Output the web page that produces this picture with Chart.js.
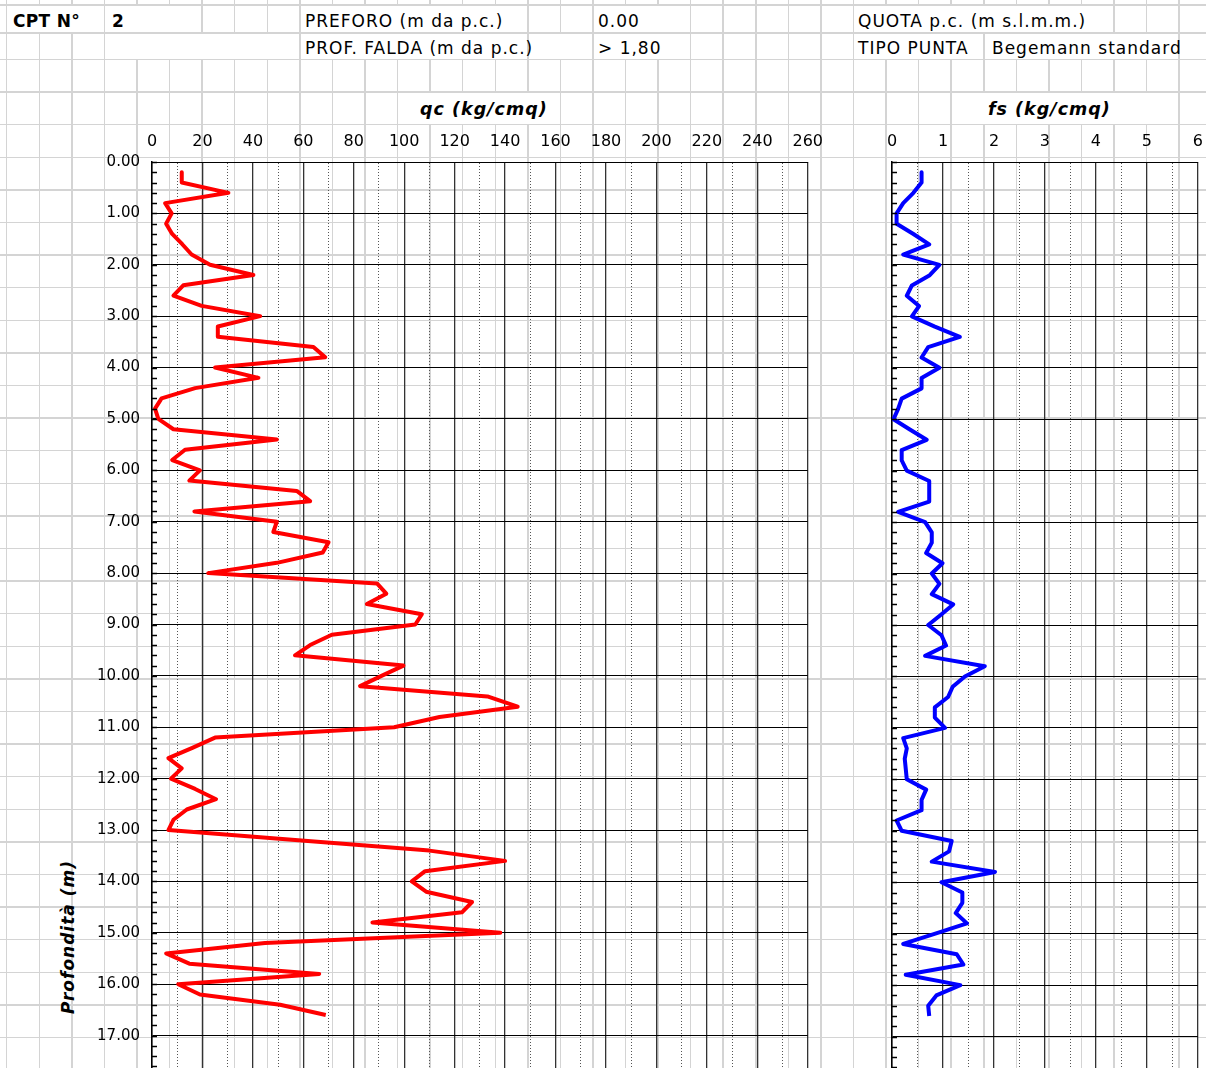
<!DOCTYPE html>
<html>
<head>
<meta charset="utf-8">
<title>CPT 2</title>
<script src="https://cdn.jsdelivr.net/npm/chart.js@4.4.0/dist/chart.umd.min.js"></script>
<style>
  html, body { margin: 0; padding: 0; background: #fff; }
  body { width: 1206px; height: 1068px; overflow: hidden; position: relative; font-family: 'DejaVu Sans', Verdana, sans-serif; }
  #sheet { position: absolute; left: 0; top: 0; width: 1206px; height: 1068px; }
  .vl { position: absolute; top: 0; width: 1.5px; height: 1068px; background: #d4d4d4; }
  .hl { position: absolute; left: 0; height: 1.5px; width: 1206px; background: #d4d4d4; }
  .cover { position: absolute; background: #fff; }
  .txt { position: absolute; white-space: nowrap; font-size: 17px; letter-spacing: 1px; line-height: 22px; color: #000; }
  .b { font-weight: bold; letter-spacing: 0.3px; }
  .title { font-weight: bold; font-style: italic; font-size: 17.5px; letter-spacing: 1px; }
  canvas { position: absolute; top: 0; }
</style>
</head>
<body>
<div id="sheet"></div>
<canvas id="qcChart" width="834" height="1108" style="left:0"></canvas>
<canvas id="fsChart" width="354" height="1088" style="left:860px"></canvas>
<script>
// depth of each reading (m)
const depths = [0.2, 0.4, 0.6, 0.8, 1.0, 1.2, 1.4, 1.6, 1.8, 2.0,
  2.2, 2.4, 2.6, 2.8, 3.0, 3.2, 3.4, 3.6, 3.8, 4.0,
  4.2, 4.4, 4.6, 4.8, 5.0, 5.2, 5.4, 5.6, 5.8, 6.0,
  6.2, 6.4, 6.6, 6.8, 7.0, 7.2, 7.4, 7.6, 7.8, 8.0,
  8.2, 8.4, 8.6, 8.8, 9.0, 9.2, 9.4, 9.6, 9.8, 10.0,
  10.2, 10.4, 10.6, 10.8, 11.0, 11.2, 11.4, 11.6, 11.8, 12.0,
  12.2, 12.4, 12.6, 12.8, 13.0, 13.2, 13.4, 13.6, 13.8, 14.0,
  14.2, 14.4, 14.6, 14.8, 15.0, 15.2, 15.4, 15.6, 15.8, 16.0,
  16.2, 16.4, 16.6];

// cone resistance qc (kg/cmq)
const qcValues = [11.8, 11.8, 30.3, 5.2, 7.8, 5.6, 8, 12, 15.7, 23,
  40.2, 12.4, 8.5, 19.7, 42.9, 26.1, 26.1, 64, 68.7, 25,
  42.2, 17.1, 3.8, 1.2, 2.5, 8.5, 49.5, 13.1, 8, 19,
  14.8, 57.4, 62.7, 16.8, 49.5, 48.1, 70, 67.7, 49.5, 22.3,
  89.2, 92.9, 85.2, 107, 104.4, 71.3, 62.7, 56.7, 99.7, 91,
  82.5, 133, 145, 114, 96, 25, 16, 6.5, 11.8, 7.5,
  17.1, 25.4, 13.8, 8.5, 6.5, 58, 110, 140, 108.3, 103,
  108.7, 126.9, 122.9, 87.4, 138.1, 44.8, 5.6, 14.8, 66.3, 10.4,
  19, 50.8, 68.9];

// sleeve friction fs (kg/cmq)
const fsValues = [0.58, 0.58, 0.42, 0.22, 0.09, 0.09, 0.42, 0.73, 0.22, 0.93,
  0.74, 0.39, 0.29, 0.53, 0.39, 0.84, 1.33, 0.71, 0.58, 0.93,
  0.58, 0.58, 0.19, 0.12, 0.03, 0.35, 0.68, 0.19, 0.19, 0.29,
  0.73, 0.73, 0.73, 0.12, 0.65, 0.78, 0.78, 0.67, 0.99, 0.78,
  0.93, 0.78, 1.2, 0.96, 0.71, 0.97, 1.06, 0.65, 1.82, 1.43,
  1.19, 1.1, 0.84, 0.84, 1.04, 0.22, 0.29, 0.25, 0.27, 0.29,
  0.67, 0.58, 0.58, 0.09, 0.19, 1.17, 1.12, 0.78, 2.02, 0.97,
  1.38, 1.38, 1.25, 1.47, 0.85, 0.22, 1.27, 1.4, 0.27, 1.34,
  0.87, 0.71, 0.73];

const qcTickLabels = [0, 20, 40, 60, 80, 100, 120, 140, 160, 180, 200, 220, 240, 260];
const fsTickLabels = [0, 1, 2, 3, 4, 5, 6];
const depthTickLabels = ['0.00', '1.00', '2.00', '3.00', '4.00', '5.00', '6.00', '7.00', '8.00',
  '9.00', '10.00', '11.00', '12.00', '13.00', '14.00', '15.00', '16.00', '17.00'];

// ---- spreadsheet background (cells, header texts) ----
const sheet = document.getElementById('sheet');
const colX = k => 6.7 + 32.57 * k;
const rowY = k => k === 0 ? 5 : k === 1 ? 33 : 59.5 + 32.6 * (k - 2);

const addDiv = (cls, style, text) => {
  const d = document.createElement('div');
  d.className = cls;
  Object.assign(d.style, style);
  if (text) d.textContent = text;
  sheet.appendChild(d);
  return d;
};

for (let k = 0; colX(k) < 1206; k++) addDiv('vl', { left: (colX(k) - 0.75) + 'px' });

// merged cells: [firstCol, lastCol, row]
const merged = [[0, 3, 0], [3, 6, 0], [9, 16, 0], [18, 21, 0], [26, 34, 0],
  [3, 9, 1], [9, 16, 1], [16, 18, 1], [18, 21, 1], [26, 30, 1], [30, 36, 1],
  [12, 17, 3], [29, 36, 3]];
merged.forEach(([a, b, r]) => {
  addDiv('cover', {
    left: (colX(a) + 0.75) + 'px', width: (colX(b) - colX(a) - 1.5) + 'px',
    top: rowY(r) + 'px', height: (rowY(r + 1) - rowY(r)) + 'px'
  });
});

for (let k = 0; rowY(k) < 1068; k++) addDiv('hl', { top: (rowY(k) - 0.75) + 'px' });

const headerText = [
  ['CPT N°', 13, 0, 'txt b'], ['2', 112, 0, 'txt b'],
  ['PREFORO (m da p.c.)', 305, 0, 'txt'], ['0.00', 598, 0, 'txt'],
  ['QUOTA p.c. (m s.l.m.m.)', 858, 0, 'txt'],
  ['PROF. FALDA (m da p.c.)', 305, 1, 'txt'], ['> 1,80', 598, 1, 'txt'],
  ['TIPO PUNTA', 858, 1, 'txt'], ['Begemann standard', 992, 1, 'txt'],
  ['qc (kg/cmq)', 420, 3, 'txt title'], ['fs (kg/cmq)', 988, 3, 'txt title']
];
headerText.forEach(([t, x, r, cls]) => {
  const mid = (rowY(r) + rowY(r + 1)) / 2;
  const shift = r < 2 ? 2 : 1;
  addDiv(cls, { left: x + 'px', top: (mid - 11 + shift) + 'px' }, t);
});

// rotated depth title
const yTitle = addDiv('txt title', { left: '68px', top: '937px', fontSize: '17px' }, 'Profondità  (m)');
yTitle.style.transform = 'translate(-50%, -50%) rotate(-90deg)';

// ---- charts ----
const isWhole = v => Math.abs(v - Math.round(v)) < 1e-6;
const tickFont = { family: 'DejaVu Sans', size: 16 };

// short inner ticks every 0.2 m on the depth axis
const minorTicks = {
  id: 'minorTicks',
  afterDraw(chart) {
    const ys = chart.scales.y;
    const left = chart.chartArea.left;
    const ctx = chart.ctx;
    ctx.save();
    ctx.strokeStyle = '#000';
    ctx.lineWidth = 1.5;
    ys.ticks.forEach(t => {
      const py = Math.round(ys.getPixelForValue(t.value)) + 0.5;
      ctx.beginPath();
      ctx.moveTo(left, py);
      ctx.lineTo(left + 5, py);
      ctx.stroke();
    });
    ctx.restore();
  }
};

const depthAxis = (width, showLabels) => ({
  type: 'linear',
  reverse: true,
  min: 0,
  max: 18,
  afterFit: s => { s.width = width; },
  ticks: {
    display: showLabels,
    stepSize: 0.2,
    autoSkip: false,
    padding: 12,
    color: '#000',
    font: { family: 'DejaVu Sans', size: 15 },
    callback: v => {
      const lbl = Number(v).toFixed(2);
      return depthTickLabels.includes(lbl) ? lbl : '';
    }
  },
  grid: {
    drawTicks: false,
    color: c => (c.tick && isWhole(c.tick.value)) ? '#000' : 'rgba(0,0,0,0)',
    lineWidth: 1
  },
  border: { display: true, color: '#000', width: 1.5 }
});

const valueAxis = (min, max, step, labels) => ({
  type: 'linear',
  position: 'top',
  min: min,
  max: max,
  afterFit: s => { s.height = 162; },
  ticks: {
    stepSize: step,
    autoSkip: false,
    maxRotation: 0,
    padding: 11,
    color: '#000',
    font: tickFont,
    callback: v => labels.includes(v) ? String(v) : ''
  },
  grid: {
    drawTicks: false,
    color: c => (c.tick && labels.includes(c.tick.value)) ? '#333' : '#555',
    lineWidth: c => (c.tick && labels.includes(c.tick.value)) ? 1.3 : 1
  },
  border: {
    display: true,
    color: '#000',
    width: 1,
    dash: c => (c.tick && !labels.includes(c.tick.value)) ? [1, 2] : []
  }
});

const baseOptions = (xAxis, yAxis) => ({
  responsive: false,
  animation: false,
  devicePixelRatio: 1,
  layout: { padding: 0 },
  plugins: { legend: { display: false }, tooltip: { enabled: false } },
  scales: { x: xAxis, y: yAxis }
});

new Chart(document.getElementById('qcChart'), {
  type: 'scatter',
  data: {
    datasets: [{
      label: 'qc',
      data: depths.map((d, i) => ({ x: qcValues[i], y: d })),
      showLine: true,
      borderColor: '#ff0000',
      borderWidth: 4,
      borderJoinStyle: 'round',
      pointRadius: 0,
      fill: false,
      tension: 0
    }]
  },
  options: baseOptions(valueAxis(0, 260, 10, qcTickLabels), depthAxis(152, true)),
  plugins: [minorTicks]
});

new Chart(document.getElementById('fsChart'), {
  type: 'scatter',
  data: {
    datasets: [{
      label: 'fs',
      data: depths.map((d, i) => ({ x: fsValues[i], y: d })),
      showLine: true,
      borderColor: '#0000ff',
      borderWidth: 4,
      borderJoinStyle: 'round',
      pointRadius: 0,
      fill: false,
      tension: 0
    }]
  },
  options: baseOptions(valueAxis(0, 6, 0.5, fsTickLabels), depthAxis(32, false)),
  plugins: [minorTicks]
});
</script>
</body>
</html>
